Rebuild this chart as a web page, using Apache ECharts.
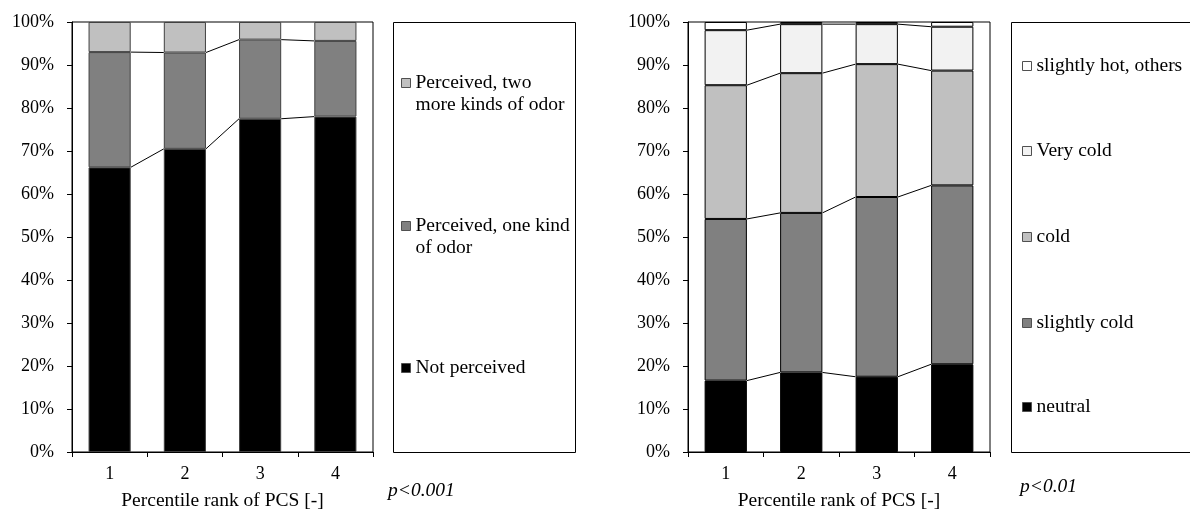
<!DOCTYPE html>
<html>
<head>
<meta charset="utf-8">
<script src="https://cdn.jsdelivr.net/npm/echarts@6/dist/echarts.min.js"></script>
<style>
html, body { margin: 0; padding: 0; background: #fff; }
#myChart { width: 1190px; height: 511px; }
</style>
</head>
<body>
<div id="myChart"></div>
<script>
// 横轴类别（PCS 百分位）
const categories = ['1', '2', '3', '4'];
// 纵轴刻度 0%..100%
const yTicks = [0, 10, 20, 30, 40, 50, 60, 70, 80, 90, 100];

// 左图：气味感知（%）
const notPerceived = [66.2, 70.5, 77.5, 78.0];
const oneKind = [26.8, 22.4, 18.4, 17.6];
const twoKinds = [7.0, 7.1, 4.1, 4.4];

// 右图：热感（%）
const neutral = [16.6, 18.5, 17.5, 20.4];
const slightlyCold = [37.6, 37.1, 41.8, 41.6];
const cold = [31.1, 32.5, 30.9, 26.7];
const veryCold = [12.8, 11.4, 9.3, 10.2];
const slightlyHot = [1.9, 0.5, 0.5, 1.1];

const FONT = "'Liberation Serif', 'Times New Roman', serif";
const BAR_RATIO = 0.56;

// 累计值，用来画柱子之间的连接线
function cumulate(list) {
  let acc = [0, 0, 0, 0];
  return list.map(arr => {
    acc = acc.map((v, i) => v + arr[i]);
    return acc.slice();
  });
}

// 连接线（Excel 的系列线）：从前一根柱子右边到后一根柱子左边
function seriesLines(cum, axisIndex) {
  const data = [];
  for (let i = 0; i < cum.length - 1; i++) data.push([i, cum[i], cum[i + 1]]);
  return {
    type: 'custom',
    xAxisIndex: axisIndex,
    yAxisIndex: axisIndex,
    silent: true,
    z: 5,
    encode: { x: 0, y: 1 },
    data: data,
    renderItem: function (params, api) {
      const idx = api.value(0);
      const p0 = api.coord([idx, api.value(1)]);
      const p1 = api.coord([idx + 1, api.value(2)]);
      const hw = api.size([1, 0])[0] * BAR_RATIO / 2;
      return {
        type: 'line',
        shape: { x1: p0[0] + hw, y1: p0[1], x2: p1[0] - hw, y2: p1[1] },
        style: { stroke: '#000', lineWidth: 1 }
      };
    }
  };
}

function barSeries(name, data, color, border, axisIndex, stack) {
  return {
    name: name,
    type: 'bar',
    stack: stack,
    xAxisIndex: axisIndex,
    yAxisIndex: axisIndex,
    data: data,
    barWidth: (BAR_RATIO * 100) + '%',
    itemStyle: { color: color, borderColor: border, borderWidth: 1 },
    emphasis: { disabled: true }
  };
}

// 一个图例一个组件，方便控制位置
// 两行的图例前面加一个空行，让图标对齐第一行文字
function legendItem(name, left, top, twoLines) {
  return {
    data: [name],
    left: left,
    top: top,
    padding: 0,
    icon: 'rect',
    itemWidth: 9,
    itemHeight: 9,
    selectedMode: false,
    itemStyle: { borderColor: '#505050', borderWidth: 1 },
    formatter: twoLines ? (n => '\n' + n) : '{name}',
    textStyle: {
      fontFamily: FONT,
      fontSize: 19.5,
      color: '#000',
      lineHeight: 22
    }
  };
}

function xAxisCfg(gridIndex) {
  return {
    type: 'category',
    gridIndex: gridIndex,
    data: categories,
    boundaryGap: true,
    name: 'Percentile rank of PCS [-]',
    nameLocation: 'middle',
    nameGap: 39,
    nameTextStyle: { fontFamily: FONT, fontSize: 19.5, color: '#000' },
    axisLine: { lineStyle: { color: '#000', width: 1 } },
    axisTick: { show: true, alignWithLabel: false, length: 5, inside: false, lineStyle: { color: '#000' } },
    axisLabel: { fontFamily: FONT, fontSize: 18, color: '#000', margin: 13 },
    splitLine: { show: false }
  };
}

function yAxisCfg(gridIndex) {
  return {
    type: 'value',
    gridIndex: gridIndex,
    min: yTicks[0],
    max: yTicks[yTicks.length - 1],
    interval: yTicks[1] - yTicks[0],
    axisLine: { show: true, lineStyle: { color: '#000', width: 1 } },
    axisTick: { show: true, length: 5, lineStyle: { color: '#000' } },
    axisLabel: { fontFamily: FONT, fontSize: 18, color: '#000', margin: 18, formatter: '{value}%' },
    splitLine: { show: false }
  };
}

const leftCum = cumulate([notPerceived, oneKind]);
const rightCum = cumulate([neutral, slightlyCold, cold, veryCold]);

let myChart = echarts.init(document.getElementById('myChart'));
let options = {
  backgroundColor: '#fff',
  animation: false,
  grid: [
    { left: 72, right: 817, top: 22, bottom: 59, outerBoundsMode: 'none', containLabel: false, show: true, borderColor: '#000', borderWidth: 1, backgroundColor: 'transparent' },
    { left: 688, right: 200, top: 22, bottom: 59, outerBoundsMode: 'none', containLabel: false, show: true, borderColor: '#000', borderWidth: 1, backgroundColor: 'transparent' }
  ],
  xAxis: [xAxisCfg(0), xAxisCfg(1)],
  yAxis: [yAxisCfg(0), yAxisCfg(1)],
  legend: [
    legendItem('Perceived, two\nmore kinds of odor', 401, 50, true),
    legendItem('Perceived, one kind\nof odor', 401, 193, true),
    legendItem('Not perceived', 401, 357, false),
    legendItem('slightly hot, others', 1022, 55, false),
    legendItem('Very cold', 1022, 140, false),
    legendItem('cold', 1022, 226, false),
    legendItem('slightly cold', 1022, 312, false),
    legendItem('neutral', 1022, 396, false)
  ],
  graphic: [
    // 图例外框
    { type: 'rect', shape: { x: 393.5, y: 22.5, width: 182, height: 430 }, style: { fill: 'none', stroke: '#000', lineWidth: 1 }, z: -1 },
    { type: 'rect', shape: { x: 1011.5, y: 22.5, width: 200, height: 430 }, style: { fill: 'none', stroke: '#000', lineWidth: 1 }, z: -1 },
    // 显著性
    { type: 'text', left: 388, top: 481, style: { text: 'p<0.001', font: 'italic 19.5px ' + FONT, fill: '#000' } },
    { type: 'text', left: 1020, top: 477, style: { text: 'p<0.01', font: 'italic 19.5px ' + FONT, fill: '#000' } }
  ],
  series: [
    barSeries('Not perceived', notPerceived, '#000000', '#404040', 0, 'odor'),
    barSeries('Perceived, one kind\nof odor', oneKind, '#808080', '#404040', 0, 'odor'),
    barSeries('Perceived, two\nmore kinds of odor', twoKinds, '#c0c0c0', '#404040', 0, 'odor'),
    seriesLines(leftCum[0], 0),
    seriesLines(leftCum[1], 0),

    barSeries('neutral', neutral, '#000000', '#000', 1, 'heat'),
    barSeries('slightly cold', slightlyCold, '#808080', '#000', 1, 'heat'),
    barSeries('cold', cold, '#c0c0c0', '#000', 1, 'heat'),
    barSeries('Very cold', veryCold, '#f2f2f2', '#000', 1, 'heat'),
    barSeries('slightly hot, others', slightlyHot, '#ffffff', '#000', 1, 'heat'),
    seriesLines(rightCum[0], 1),
    seriesLines(rightCum[1], 1),
    seriesLines(rightCum[2], 1),
    seriesLines(rightCum[3], 1)
  ]
};
myChart.setOption(options);
</script>
</body>
</html>
